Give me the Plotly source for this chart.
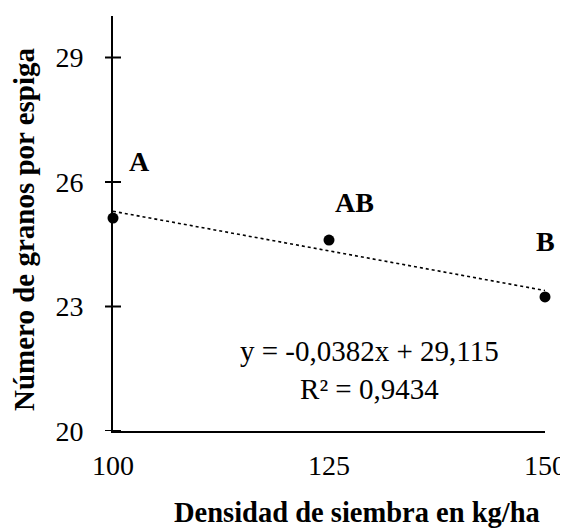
import plotly.graph_objects as go

densidad = [100, 125, 150]
granos = [25.13, 24.6, 23.23]
letras = ["A", "AB", "B"]
pendiente = -0.0382
intercepto = 29.115
ecuacion = "y = -0,0382x + 29,115<br>R² = 0,9434"
y_ticks = [20, 23, 26, 29]
x_ticks = [100, 125, 150]
titulo_x = "Densidad de siembra en kg/ha"
titulo_y = "Número de granos por espiga"

FONT = "Liberation Serif, Times New Roman, serif"

trend_x = [min(densidad), max(densidad)]
trend_y = [pendiente * v + intercepto for v in trend_x]

fig = go.Figure()
fig.add_trace(go.Scatter(x=trend_x, y=trend_y, mode="lines",
                         line=dict(color="black", width=1.6, dash="dot"),
                         showlegend=False, hoverinfo="skip", cliponaxis=False))
fig.add_trace(go.Scatter(x=densidad, y=granos, mode="markers",
                         marker=dict(color="black", size=11),
                         showlegend=False, cliponaxis=False))

shifts = [(26, 57), (25, 38), (0, 55)]
for xv, yv, t, (dx, dy) in zip(densidad, granos, letras, shifts):
    fig.add_annotation(x=xv, y=yv, text=t, showarrow=False, xshift=dx, yshift=dy,
                       font=dict(family=FONT, size=28, color="black", weight="bold"))

fig.add_annotation(x=129.7, y=21.46, text=ecuacion, showarrow=False,
                   font=dict(family=FONT, size=29, color="black"), align="center")

# page offset of 8px (browser body margin)
OFF = 8
L, R, T, B = 113 - OFF, 568 - 545 + OFF, 16 - OFF, 528 - 431 + OFF
PW, PH = 568 - L - R, 528 - T - B

# cross ticks on the y axis
TL = 8 / PW
for v in y_ticks:
    fig.add_shape(type="line", xref="paper", yref="y", x0=-TL, x1=TL, y0=v, y1=v,
                  line=dict(color="black", width=2), layer="above")

fig.add_annotation(xref="paper", yref="paper", x=(357 - 113) / PW, y=(431 - 513) / PH,
                   text=titulo_x, showarrow=False, xanchor="center", yanchor="middle",
                   font=dict(family=FONT, size=28.5, color="black", weight="bold"))
fig.add_annotation(xref="paper", yref="paper", x=(24 - 113) / PW, y=(431 - 229) / PH,
                   text=titulo_y, showarrow=False, textangle=-90,
                   xanchor="center", yanchor="middle",
                   font=dict(family=FONT, size=29, color="black", weight="bold"))

fig.update_layout(
    width=568, height=528,
    margin=dict(l=L, r=R, t=T, b=B),
    paper_bgcolor="white", plot_bgcolor="white",
    font=dict(family=FONT, color="black"),
    xaxis=dict(range=[100, 150], tickvals=x_ticks, ticks="", showgrid=False,
               zeroline=False, showline=True, linecolor="black", linewidth=2,
               tickfont=dict(family=FONT, size=28), ticklabelstandoff=8,
               automargin=False),
    yaxis=dict(range=[20, 30], tickvals=y_ticks, ticks="outside", ticklen=22,
               tickwidth=1, tickcolor="rgba(0,0,0,0)", showgrid=False, zeroline=False,
               showline=True, linecolor="black", linewidth=2,
               tickfont=dict(family=FONT, size=28),
               automargin=False),
)

fig.write_html("out.html")
